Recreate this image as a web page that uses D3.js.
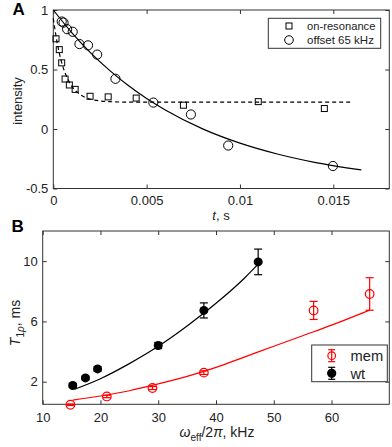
<!DOCTYPE html>
<html><head><meta charset="utf-8">
<script src="https://cdn.jsdelivr.net/npm/d3@7"></script>
<style>
body{margin:0;background:#fff;}
svg{display:block;font-family:"Liberation Sans",Arial,sans-serif;}
</style></head>
<body><svg id="c" width="392" height="447"></svg>
<script>
// ---------- Panel A data ----------
const onResT   = [0.000145,0.00032,0.00045,0.00063,0.00086,0.00117,0.00197,0.00294,0.00444,0.00697,0.01098,0.01452];
const onResI   = [0.758,0.667,0.556,0.42,0.37,0.333,0.275,0.27,0.26,0.2,0.23,0.172];
const offT     = [0.00045,0.00055,0.00074,0.00104,0.0014,0.00186,0.00235,0.00333,0.00536,0.00737,0.00937,0.01498];
const offI     = [0.903,0.894,0.839,0.817,0.714,0.703,0.625,0.422,0.222,0.122,-0.139,-0.311];
const fitOnT   = [0,0.0002,0.0004,0.0006,0.0008,0.001,0.0015,0.002,0.003,0.004,0.016];
const fitOnI   = [0.93,0.73,0.587,0.484,0.411,0.358,0.283,0.25,0.23,0.226,0.225];
const fitOffT  = [0,0.001,0.002,0.003,0.004,0.005,0.006,0.008,0.010,0.012,0.014,0.0165];
const fitOffI  = [1,0.808,0.64,0.495,0.367,0.256,0.16,0.001,-0.119,-0.21,-0.28,-0.344];
const xTicksA  = [0,0.005,0.01,0.015];
const xLabelsA = ["0","0.005","0.01","0.015"];
const yTicksA  = [-0.5,0,0.5,1];
const yLabelsA = ["-0.5","0","0.5","1"];
const legendA  = ["on-resonance","offset 65 kHz"];

// ---------- Panel B data ----------
const wtX   = [15.2,17.4,19.5,30.0,37.9,47.3];
const wtY   = [1.75,2.25,2.85,4.4,6.73,9.95];
const wtErr = [0.12,0.12,0.15,0.2,0.5,0.85];
const memX   = [14.8,21.1,29.0,37.9,56.9,66.6];
const memY   = [0.47,1.02,1.58,2.6,6.73,7.82];
const memErr = [0.05,0.08,0.1,0.12,0.6,1.08];
const fitWtX  = [15.5,20,25,30,35,40,45,47.3];
const fitWtY  = [1.5,2.2,3.2,4.35,5.7,7.2,8.9,9.8];
const fitMemX = [15.2,20,25,30,35,40,45,50,55,60,66.6];
const fitMemY = [0.78,1.05,1.4,1.85,2.35,2.95,3.65,4.35,5.05,5.75,6.75];
const xTicksB = [10,20,30,40,50,60];
const yTicksB = [2,6,10];
const legendB = ["mem","wt"];

const svg = d3.select("#c");
const TXT = "#222", AX = "#333";

function frame(g, x, y, xt, xl, yt, yl, padX) {
  const [x0,x1] = x.range(), [y0,y1] = y.range();
  const tl = 4;
  const bx = g.append("g").attr("transform",`translate(0,${y0})`)
    .call(d3.axisBottom(x).tickValues(xt).tickFormat((d,i)=>xl[i]).tickSizeInner(-tl).tickSizeOuter(0).tickPadding(padX));
  const tx = g.append("g").attr("transform",`translate(0,${y1})`)
    .call(d3.axisTop(x).tickValues(xt).tickFormat("").tickSizeInner(-tl).tickSizeOuter(0));
  const ly = g.append("g").attr("transform",`translate(${x0},0)`)
    .call(d3.axisLeft(y).tickValues(yt).tickFormat((d,i)=>yl[i]).tickSizeInner(-tl).tickSizeOuter(0).tickPadding(5));
  const ry = g.append("g").attr("transform",`translate(${x1},0)`)
    .call(d3.axisRight(y).tickValues(yt).tickFormat("").tickSizeInner(-tl).tickSizeOuter(0));
  [bx,tx,ly,ry].forEach(a=>{
    a.select(".domain").remove();
    a.selectAll("line").attr("stroke",AX);
    a.selectAll("text").attr("fill",TXT).style("font-size","13px").style("font-family","Liberation Sans, Arial, sans-serif");
  });
  g.append("rect").attr("x",x0).attr("y",y1).attr("width",x1-x0).attr("height",y0-y1)
    .attr("fill","none").attr("stroke",AX).attr("stroke-width",1);
}

// ================= Panel A =================
const xA = d3.scaleLinear().domain([0,0.018]).range([53.3,389.3]);
const yA = d3.scaleLinear().domain([-0.5,1]).range([188.5,10]);
const gA = svg.append("g");
frame(gA, xA, yA, xTicksA, xLabelsA, yTicksA, yLabelsA, 7);

const lineA = d3.line().x(d=>xA(d[0])).y(d=>yA(d[1])).curve(d3.curveMonotoneX);
gA.append("path").datum(fitOnT.map((t,i)=>[t,fitOnI[i]])).attr("d",lineA)
  .attr("fill","none").attr("stroke","#000").attr("stroke-width",1.2).attr("stroke-dasharray","4,3");
gA.append("path").datum(fitOffT.map((t,i)=>[t,fitOffI[i]])).attr("d",lineA)
  .attr("fill","none").attr("stroke","#000").attr("stroke-width",1.2);

gA.selectAll("rect.sq").data(onResT.map((t,i)=>[t,onResI[i]])).join("rect").attr("class","sq")
  .attr("x",d=>xA(d[0])-3).attr("y",d=>yA(d[1])-3).attr("width",6).attr("height",6)
  .attr("fill","none").attr("stroke","#000").attr("stroke-width",1);
gA.selectAll("circle.ci").data(offT.map((t,i)=>[t,offI[i]])).join("circle").attr("class","ci")
  .attr("cx",d=>xA(d[0])).attr("cy",d=>yA(d[1])).attr("r",4.6)
  .attr("fill","none").attr("stroke","#000").attr("stroke-width",1);

// legend A
gA.append("rect").attr("x",268.3).attr("y",18.3).attr("width",112.4).attr("height",30)
  .attr("fill","#fff").attr("stroke",AX).attr("stroke-width",1);
gA.append("rect").attr("x",286).attr("y",23).attr("width",6).attr("height",6)
  .attr("fill","none").attr("stroke","#000");
gA.append("circle").attr("cx",289).attr("cy",40).attr("r",4.3).attr("fill","none").attr("stroke","#000");
gA.append("text").attr("x",307).attr("y",30).text(legendA[0]).attr("fill",TXT).style("font-size","11.2px");
gA.append("text").attr("x",307).attr("y",44).text(legendA[1]).attr("fill",TXT).style("font-size","11.5px");

// labels A
svg.append("text").attr("transform","translate(22,101) rotate(-90)").attr("text-anchor","middle")
  .attr("fill",TXT).style("font-size","13px").text("intensity");
const tl = svg.append("text").attr("x",221).attr("y",220).attr("text-anchor","middle").attr("fill",TXT).style("font-size","13px");
tl.append("tspan").style("font-style","italic").text("t");
tl.append("tspan").text(", s");
svg.append("text").attr("x",12.5).attr("y",14.5).attr("fill","#000").style("font-size","17px").style("font-weight","bold").text("A");
svg.append("text").attr("x",11.5).attr("y",232).attr("fill","#000").style("font-size","17px").style("font-weight","bold").text("B");

// ================= Panel B =================
const xB = d3.scaleLinear().domain([10,70]).range([42.7,389.3]);
const yB = d3.scaleLinear().domain([0.5,12]).range([404.3,231]);
const gB = svg.append("g");
frame(gB, xB, yB, xTicksB, xTicksB.map(String), yTicksB, yTicksB.map(String), 8.5);

const lineB = d3.line().x(d=>xB(d[0])).y(d=>yB(d[1])).curve(d3.curveMonotoneX);
gB.append("path").datum(fitWtX.map((x,i)=>[x,fitWtY[i]])).attr("d",lineB)
  .attr("fill","none").attr("stroke","#000").attr("stroke-width",1.2);
gB.append("path").datum(fitMemX.map((x,i)=>[x,fitMemY[i]])).attr("d",lineB)
  .attr("fill","none").attr("stroke","#ff0000").attr("stroke-width",1.2);

function errbars(g, xs, ys, es, col) {
  const d = xs.map((x,i)=>[x,ys[i],es[i]]);
  const e = g.append("g").attr("stroke",col).attr("stroke-width",1.2);
  e.selectAll("line.v").data(d).join("line").attr("x1",d=>xB(d[0])).attr("x2",d=>xB(d[0]))
    .attr("y1",d=>yB(d[1]-d[2])).attr("y2",d=>yB(d[1]+d[2]));
  e.selectAll("line.t").data(d).join("line").attr("x1",d=>xB(d[0])-4).attr("x2",d=>xB(d[0])+4)
    .attr("y1",d=>yB(d[1]+d[2])).attr("y2",d=>yB(d[1]+d[2]));
  e.selectAll("line.b").data(d).join("line").attr("x1",d=>xB(d[0])-4).attr("x2",d=>xB(d[0])+4)
    .attr("y1",d=>yB(d[1]-d[2])).attr("y2",d=>yB(d[1]-d[2]));
}
errbars(gB, memX, memY, memErr, "#ff0000");
errbars(gB, wtX, wtY, wtErr, "#000");
gB.selectAll("circle.mem").data(memX.map((x,i)=>[x,memY[i]])).join("circle").attr("class","mem")
  .attr("cx",d=>xB(d[0])).attr("cy",d=>yB(d[1])).attr("r",4.3)
  .attr("fill","none").attr("stroke","#ff0000").attr("stroke-width",1.2);
gB.selectAll("circle.wt").data(wtX.map((x,i)=>[x,wtY[i]])).join("circle").attr("class","wt")
  .attr("cx",d=>xB(d[0])).attr("cy",d=>yB(d[1])).attr("r",4.5).attr("fill","#000");

// legend B
gB.append("rect").attr("x",311.7).attr("y",345).attr("width",75.6).attr("height",36.7)
  .attr("fill","#fff").attr("stroke",AX).attr("stroke-width",1);
function legMark(cx, cy, col, filled) {
  gB.append("line").attr("x1",cx).attr("x2",cx).attr("y1",cy-6).attr("y2",cy+6).attr("stroke",col).attr("stroke-width",1.2);
  gB.append("line").attr("x1",cx-3.5).attr("x2",cx+3.5).attr("y1",cy-6).attr("y2",cy-6).attr("stroke",col).attr("stroke-width",1.2);
  gB.append("line").attr("x1",cx-3.5).attr("x2",cx+3.5).attr("y1",cy+6).attr("y2",cy+6).attr("stroke",col).attr("stroke-width",1.2);
  gB.append("circle").attr("cx",cx).attr("cy",cy).attr("r",filled?4:3.8)
    .attr("fill",filled?col:"none").attr("stroke",col).attr("stroke-width",1.2);
}
legMark(331.7,355.7,"#ff0000",false);
legMark(331.7,373.3,"#000",true);
gB.append("text").attr("x",350.5).attr("y",361).attr("fill",TXT).style("font-size","14.7px").text(legendB[0]);
gB.append("text").attr("x",350.5).attr("y",379).attr("fill",TXT).style("font-size","14.7px").text(legendB[1]);

// labels B
const yl = svg.append("text").attr("transform","translate(20,323) rotate(-90)").attr("text-anchor","middle")
  .attr("fill",TXT).style("font-size","14px");
yl.append("tspan").style("font-style","italic").text("T");
yl.append("tspan").attr("dy",4).style("font-size","10px").text("1");
yl.append("tspan").style("font-size","10px").style("font-style","italic").text("ρ");
yl.append("tspan").attr("dy",-4).text(", ms");
const xl = svg.append("text").attr("x",217).attr("y",437).attr("text-anchor","middle")
  .attr("fill",TXT).style("font-size","14px");
xl.append("tspan").style("font-style","italic").text("ω");
xl.append("tspan").attr("dy",4).style("font-size","10px").text("eff");
xl.append("tspan").attr("dy",-4).text("/2");
xl.append("tspan").style("font-style","italic").text("π");
xl.append("tspan").text(", kHz");
</script></body></html>
